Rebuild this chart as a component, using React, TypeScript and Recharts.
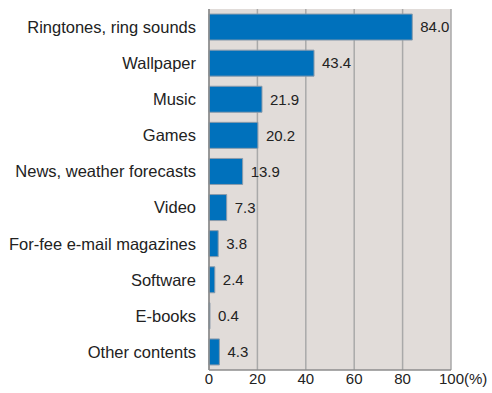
import { BarChart, Bar, XAxis, YAxis, CartesianGrid, LabelList } from "recharts";

const categories = [
  "Ringtones, ring sounds",
  "Wallpaper",
  "Music",
  "Games",
  "News, weather forecasts",
  "Video",
  "For-fee e-mail magazines",
  "Software",
  "E-books",
  "Other contents",
];
const shares = [84.0, 43.4, 21.9, 20.2, 13.9, 7.3, 3.8, 2.4, 0.4, 4.3];
const xTicks = [0, 20, 40, 60, 80, 100];

const data = categories.map((name, i) => ({ name, value: shares[i] }));

const FONT = "'Liberation Sans', Arial, Helvetica, sans-serif";

function XTick(props: any) {
  const { x, y, payload } = props;
  const v = payload.value;
  if (v === 100) {
    return (
      <text x={x - 12} y={y} dy="0.71em" textAnchor="start" fontSize={15} fill="#222" fontFamily={FONT}>
        100(%)
      </text>
    );
  }
  return (
    <text x={x} y={y} dy="0.71em" textAnchor="middle" fontSize={15} fill="#222" fontFamily={FONT}>
      {v}
    </text>
  );
}

export default function App() {
  return (
    <div style={{ position: "absolute", left: 0, top: 0, width: 492, height: 393, background: "#fff" }}>
      <BarChart
        width={492}
        height={393}
        data={data}
        layout="vertical"
        margin={{ top: 9, right: 41, bottom: 0, left: 0 }}
        barCategoryGap="14%"
      >
        <CartesianGrid horizontal={false} vertical stroke="#a9a9a9" strokeWidth={1.5} fill="#e1dcd9" fillOpacity={1} />
        <XAxis
          type="number"
          domain={[0, 100]}
          ticks={xTicks}
          height={23}
          tickSize={0}
          tickMargin={3}
          axisLine={{ stroke: "#8c8c8c", strokeWidth: 1.5 }}
          tick={<XTick />}
          interval={0}
        />
        <XAxis
          xAxisId="top"
          orientation="top"
          type="number"
          domain={[0, 100]}
          height={0}
          tick={false}
          tickLine={false}
          axisLine={{ stroke: "#a9a9a9", strokeWidth: 1.5 }}
        />
        <YAxis
          type="category"
          dataKey="name"
          width={209}
          tickSize={0}
          tickMargin={13}
          axisLine={{ stroke: "#8c8c8c", strokeWidth: 1.5 }}
          interval={0}
          tick={{ fontSize: 16.5, fill: "#222", fontFamily: FONT }}
        />
        <Bar dataKey="value" fill="#0071bc" stroke="#8a9bab" strokeWidth={1} isAnimationActive={false}>
          <LabelList
            dataKey="value"
            position="right"
            offset={8}
            formatter={(v: any) => Number(v).toFixed(1)}
            style={{ fontSize: 15, fill: "#222", fontFamily: FONT }}
          />
        </Bar>
      </BarChart>
    </div>
  );
}
